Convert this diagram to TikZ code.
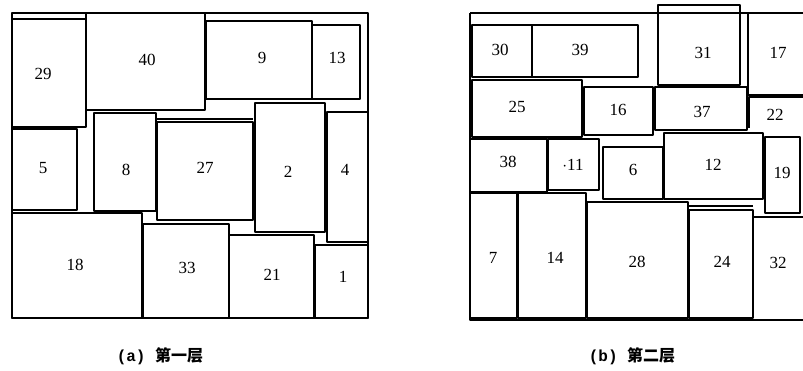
\documentclass[tikz,border=0pt]{standalone}
\usepackage{fontspec}
\setmainfont{Liberation Serif}
\setmonofont{Liberation Mono}
\newfontfamily\cjk{Noto Sans CJK SC}
\tikzset{
  blk/.style={line width=1.9pt, line join=round},
  num/.style={font=\fontsize{17}{17}\selectfont},
  captxt/.style={font=\fontsize{16}{16}\selectfont}
}
\begin{document}
\begin{tikzpicture}[x=1pt, y=-1pt]
\useasboundingbox (0,0) rectangle (803,371);
% (a) first layer
\draw[blk] (12,13) rectangle (368,318);
\draw[blk] (12,19) rectangle (86,127);
\draw[blk] (86,13) rectangle (205,110);
\draw[blk] (206,21) rectangle (312,99);
\draw[blk] (312,25) rectangle (360,99);
\draw[blk] (12,129) rectangle (77,210);
\draw[blk] (94,113) rectangle (156,211);
\draw[blk] (157,119) -- (253,119);
\draw[blk] (157,122) rectangle (253,220);
\draw[blk] (255,103) rectangle (325,232);
\draw[blk] (327,112) rectangle (368,242);
\draw[blk] (12,213) rectangle (142,318);
\draw[blk] (143,224) rectangle (229,318);
\draw[blk] (229,235) rectangle (314,318);
\draw[blk] (315,245) rectangle (368,318);
\node[num] (a29) at (43,74)  {29};
\node[num] (a40) at (147,60) {40};
\node[num] (a9)  at (262,58) {9};
\node[num] (a13) at (337,58) {13};
\node[num] (a5)  at (43,168) {5};
\node[num] (a8)  at (126,170) {8};
\node[num] (a27) at (205,168) {27};
\node[num] (a2)  at (288,172) {2};
\node[num] (a4)  at (345,170) {4};
\node[num] (a18) at (75,265) {18};
\node[num] (a33) at (187,268) {33};
\node[num] (a21) at (272,275) {21};
\node[num] (a1)  at (343,277) {1};
% (b) second layer
\draw[blk] (470,13) -- (803,13);
\draw[blk] (470,13) -- (470,320) -- (803,320);
\draw[blk] (472,25) rectangle (532,77);
\draw[blk] (532,25) rectangle (638,77);
\draw[blk] (658,5) rectangle (740,85);
\draw[blk] (748,13) -- (748,95) -- (803,95);
\draw[blk] (472,80) rectangle (582,137);
\draw[blk] (584,87) rectangle (653,135);
\draw[blk] (655,87) rectangle (747,130);
\draw[blk] (749,128) -- (749,97) -- (803,97);
\draw[blk] (470,139) rectangle (547,192);
\draw[blk] (548,139) rectangle (599,190);
\draw[blk] (603,147) rectangle (663,199);
\draw[blk] (664,133) rectangle (763,199);
\draw[blk] (765,137) rectangle (800,213);
\draw[blk] (470,193) rectangle (517,318);
\draw[blk] (518,193) rectangle (586,318);
\draw[blk] (587,202) rectangle (688,318);
\draw[blk] (689,206) -- (753,206);
\draw[blk] (689,210) rectangle (753,318);
\draw[blk] (753,318) -- (753,217) -- (803,217);
\node[num] (b30) at (500,50)  {30};
\node[num] (b39) at (580,50)  {39};
\node[num] (b31) at (703,53)  {31};
\node[num] (b17) at (778,53)  {17};
\node[num] (b25) at (517,107) {25};
\node[num] (b16) at (618,110) {16};
\node[num] (b37) at (702,112) {37};
\node[num] (b22) at (775,115) {22};
\node[num] (b38) at (508,162) {38};
\node[num] (b11) at (573,165) {$\cdot$11};
\node[num] (b6)  at (633,170) {6};
\node[num] (b12) at (713,165) {12};
\node[num] (b19) at (782,173) {19};
\node[num] (b7)  at (493,258) {7};
\node[num] (b14) at (555,258) {14};
\node[num] (b28) at (637,262) {28};
\node[num] (b24) at (722,262) {24};
\node[num] (b32) at (778,263) {32};
% captions
\node[captxt] (capa) at (160,356) {\ttfamily\bfseries(a) \cjk 第一层};
\node[captxt] (capb) at (632,356) {\ttfamily\bfseries(b) \cjk 第二层};
\end{tikzpicture}
\end{document}
